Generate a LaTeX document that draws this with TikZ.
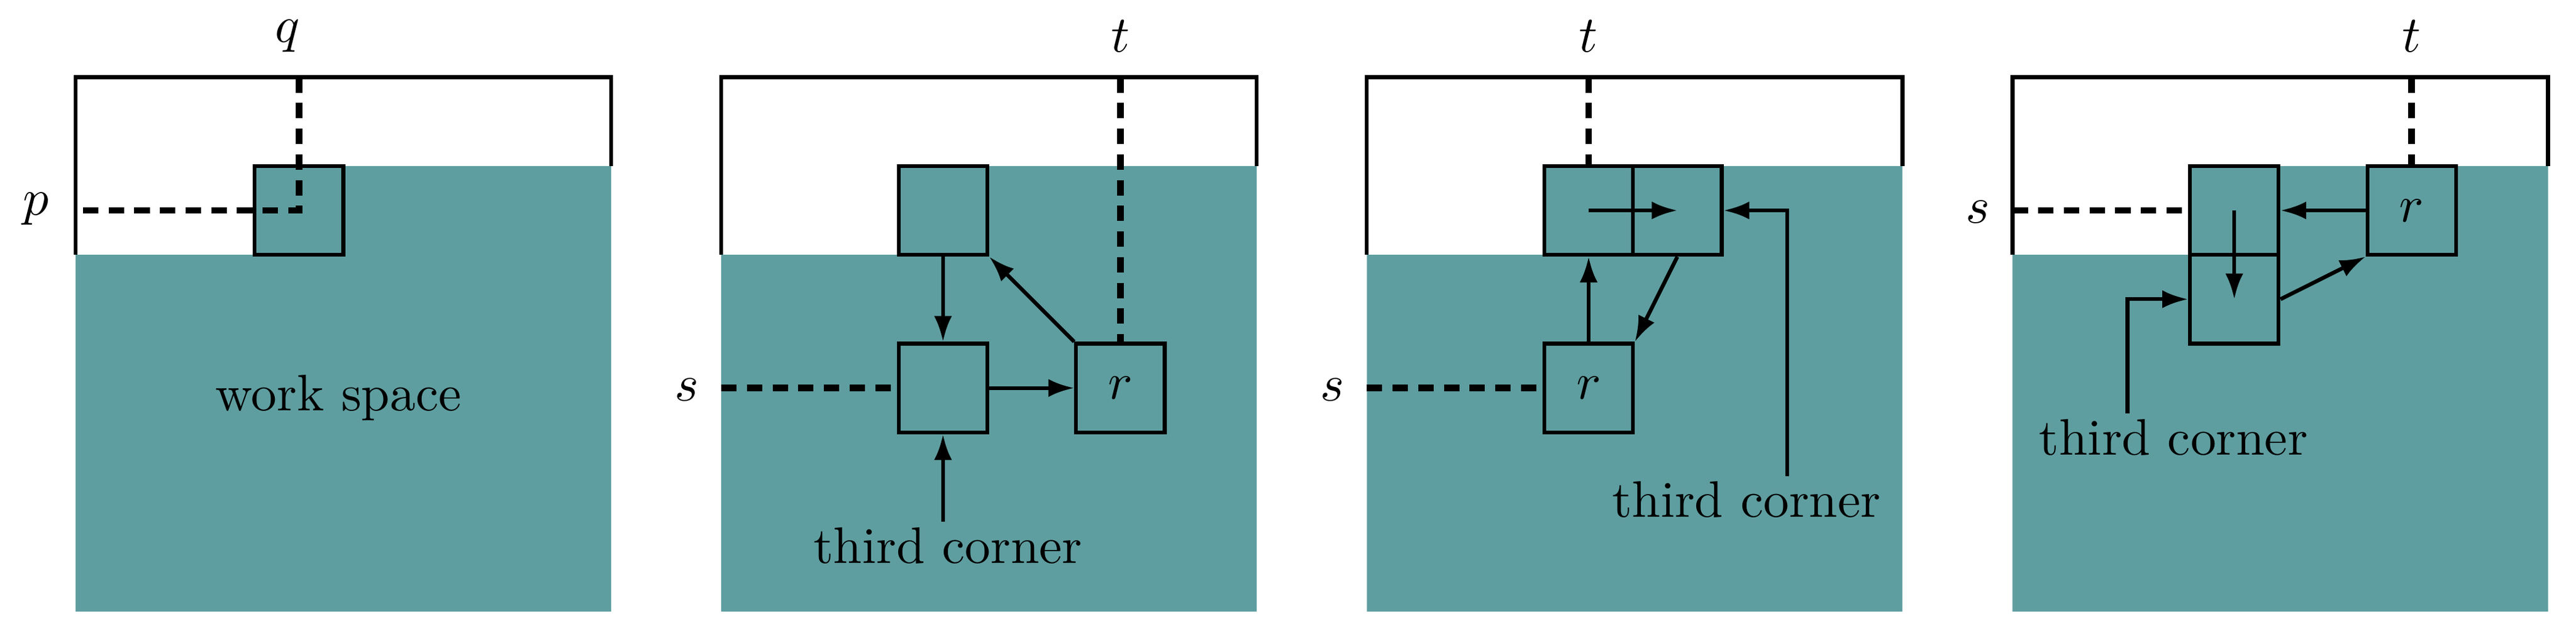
\documentclass[tikz,border=0pt]{standalone}
\usetikzlibrary{arrows.meta}
\definecolor{wsfill}{RGB}{95,158,160}
\tikzset{every picture/.style={line width=0.75pt}}
\tikzset{
  cell/.style={draw,fill=wsfill,minimum size=17.28pt,inner sep=0pt,line width=0.75pt},
  guide/.style={line width=1.3pt,dash pattern=on 3pt off 2pt},
  move/.style={-{Latex[length=5pt,width=3.5pt]},line width=0.75pt},
  lbl/.style={inner sep=0.75pt},
}
\begin{document}
\begin{tikzpicture}[x=0.32pt,y=0.32pt,yscale=-1,xscale=1]
	\useasboundingbox (0,0) rectangle (1568,388);

	%Panel 1
	\fill [wsfill] (46,372) -- (46,155) -- (155,155) -- (155,101) -- (372,101) -- (372,372) -- cycle;
	\draw (46,155) -- (46,47) -- (372,47) -- (372,101);
	\node [cell] (a1) at (182,128) {};
	\coordinate (q1) at (182,47);
	\coordinate (p1) at (46,128);
	\draw [guide] (q1) -- (a1.center) -- (p1);
	% Text Node
	\node [lbl] (ql) at (175,22) {$q$};
	% Text Node
	\node [lbl] (pl) at (22,127) {$p$};
	% Text Node
	\node [lbl] (ws) at (206,242) {work space};

	%Panel 2
	\fill [wsfill] (439,372) -- (439,155) -- (547,155) -- (547,101) -- (765,101) -- (765,372) -- cycle;
	\draw (439,155) -- (439,47) -- (765,47) -- (765,101);
	\node [cell] (a2) at (574,128) {};
	\node [cell] (b2) at (574,236) {};
	\node [cell] (r2) at (682,236) {$r$};
	\coordinate (t2) at (682,47);
	\coordinate (s2) at (439,236);
	\draw [guide] (t2) -- (r2.north);
	\draw [guide] (s2) -- (b2.west);
	\draw [move] (a2.south) -- (b2.north);
	\draw [move] (b2.east) -- (r2.west);
	\draw [move] (r2.north west) -- (a2.south east);
	% Text Node
	\node [lbl] (tl2) at (682,22) {$t$};
	% Text Node
	\node [lbl] (sl2) at (418,237) {$s$};
	% Text Node
	\node [lbl] (tc2) at (577,332) {third corner};
	\draw [move] (tc2.north -| b2.south) -- (b2.south);

	%Panel 3
	\fill [wsfill] (832,372) -- (832,155) -- (940,155) -- (940,101) -- (1158,101) -- (1158,372) -- cycle;
	\draw (832,155) -- (832,47) -- (1158,47) -- (1158,101);
	\node [cell] (a3) at (967,128) {};
	\node [cell] (c3) at (1021,128) {};
	\node [cell] (r3) at (967,236) {$r$};
	\coordinate (t3) at (967,47);
	\coordinate (s3) at (832,236);
	\draw [guide] (t3) -- (a3.north);
	\draw [guide] (s3) -- (r3.west);
	\draw [move] (r3.north) -- (a3.south);
	\draw [move] (a3.center) -- (c3.center);
	\draw [move] (c3.south) -- (r3.north east);
	% Text Node
	\node [lbl] (tl3) at (967,22) {$t$};
	% Text Node
	\node [lbl] (sl3) at (811,237) {$s$};
	% Text Node
	\node [lbl] (tc3) at (1063,304) {third corner};
	\coordinate (k3) at (1088,128);
	\draw [move] (tc3.north -| k3) -- (k3) -- (c3.east);

	%Panel 4
	\fill [wsfill] (1225,372) -- (1225,155) -- (1333,155) -- (1333,101) -- (1551,101) -- (1551,372) -- cycle;
	\draw (1225,155) -- (1225,47) -- (1551,47) -- (1551,101);
	\node [cell] (a4) at (1360,128) {};
	\node [cell] (b4) at (1360,182) {};
	\node [cell] (r4) at (1468,128) {$r$};
	\coordinate (t4) at (1468,47);
	\coordinate (s4) at (1225,128);
	\draw [guide] (t4) -- (r4.north);
	\draw [guide] (s4) -- (a4.west);
	\draw [move] (r4.west) -- (a4.east);
	\draw [move] (a4.center) -- (b4.center);
	\draw [move] (b4.east) -- (r4.south west);
	% Text Node
	\node [lbl] (tl4) at (1468,22) {$t$};
	% Text Node
	\node [lbl] (sl4) at (1204,129) {$s$};
	% Text Node
	\node [lbl] (tc4) at (1323,266) {third corner};
	\coordinate (k4) at (1295,182);
	\draw [move] (tc4.north -| k4) -- (k4) -- (b4.west);

\end{tikzpicture}
\end{document}
